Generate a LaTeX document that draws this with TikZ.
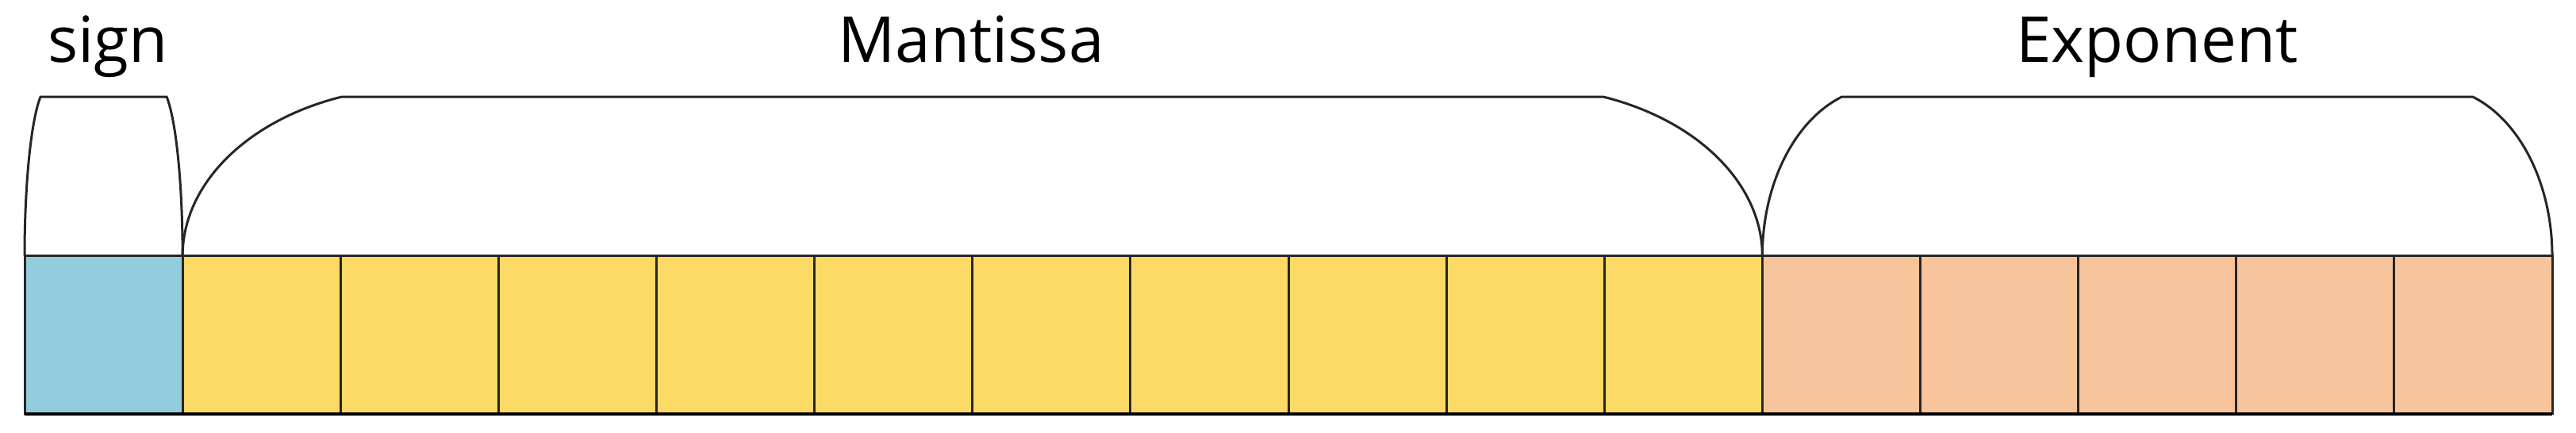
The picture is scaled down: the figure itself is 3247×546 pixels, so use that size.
\documentclass[tikz,border=0pt]{standalone}
\usepackage{fontspec}
\setmainfont{Open Sans}
\definecolor{signblue}{HTML}{93CDDD}
\definecolor{mantyellow}{HTML}{FDD966}
\definecolor{exporange}{HTML}{F8C49C}
\begin{document}
\begin{tikzpicture}[x=1pt,y=1pt,
  cell/.style={draw=black!85, line width=3pt, minimum width=199.125pt, minimum height=199pt, inner sep=0pt, outer sep=0pt, anchor=south west},
  arch/.style={draw=black!85, line width=3pt},
  lbl/.style={anchor=base, font=\fontsize{80}{96}\selectfont, inner sep=0pt}]
\useasboundingbox (0,0) rectangle (3247,546);
% cells
\node[cell, fill=signblue] (s) at (31,24) {};
\foreach \i in {1,...,10} \node[cell, fill=mantyellow] (m\i) at ({31+\i*199.125},24) {};
\foreach \i in {1,...,5} \node[cell, fill=exporange] (e\i) at ({31+(10+\i)*199.125},24) {};
\draw[line width=4pt, black] (s.south west) -- (e5.south east);
% arches
\draw[arch] (s.north west) arc[start angle=180, end angle=109.47, x radius=30, y radius=213]
  -- ++(159.125,0) arc[start angle=70.53, end angle=0, x radius=30, y radius=213];
\draw[arch] (m1.north west) arc[start angle=180, end angle=109.47, x radius=300, y radius=213]
  -- ++(1591.25,0) arc[start angle=70.53, end angle=0, x radius=300, y radius=213];
\draw[arch] (e1.north west) arc[start angle=180, end angle=109.47, x radius=150, y radius=213]
  -- ++(795.625,0) arc[start angle=70.53, end angle=0, x radius=150, y radius=213];
% labels
\node[lbl] (tsign) at (136,467) {sign};
\node[lbl] (tman) at (1224,467) {Mantissa};
\node[lbl] (texp) at (2719,467) {Exponent};
\end{tikzpicture}
\end{document}
